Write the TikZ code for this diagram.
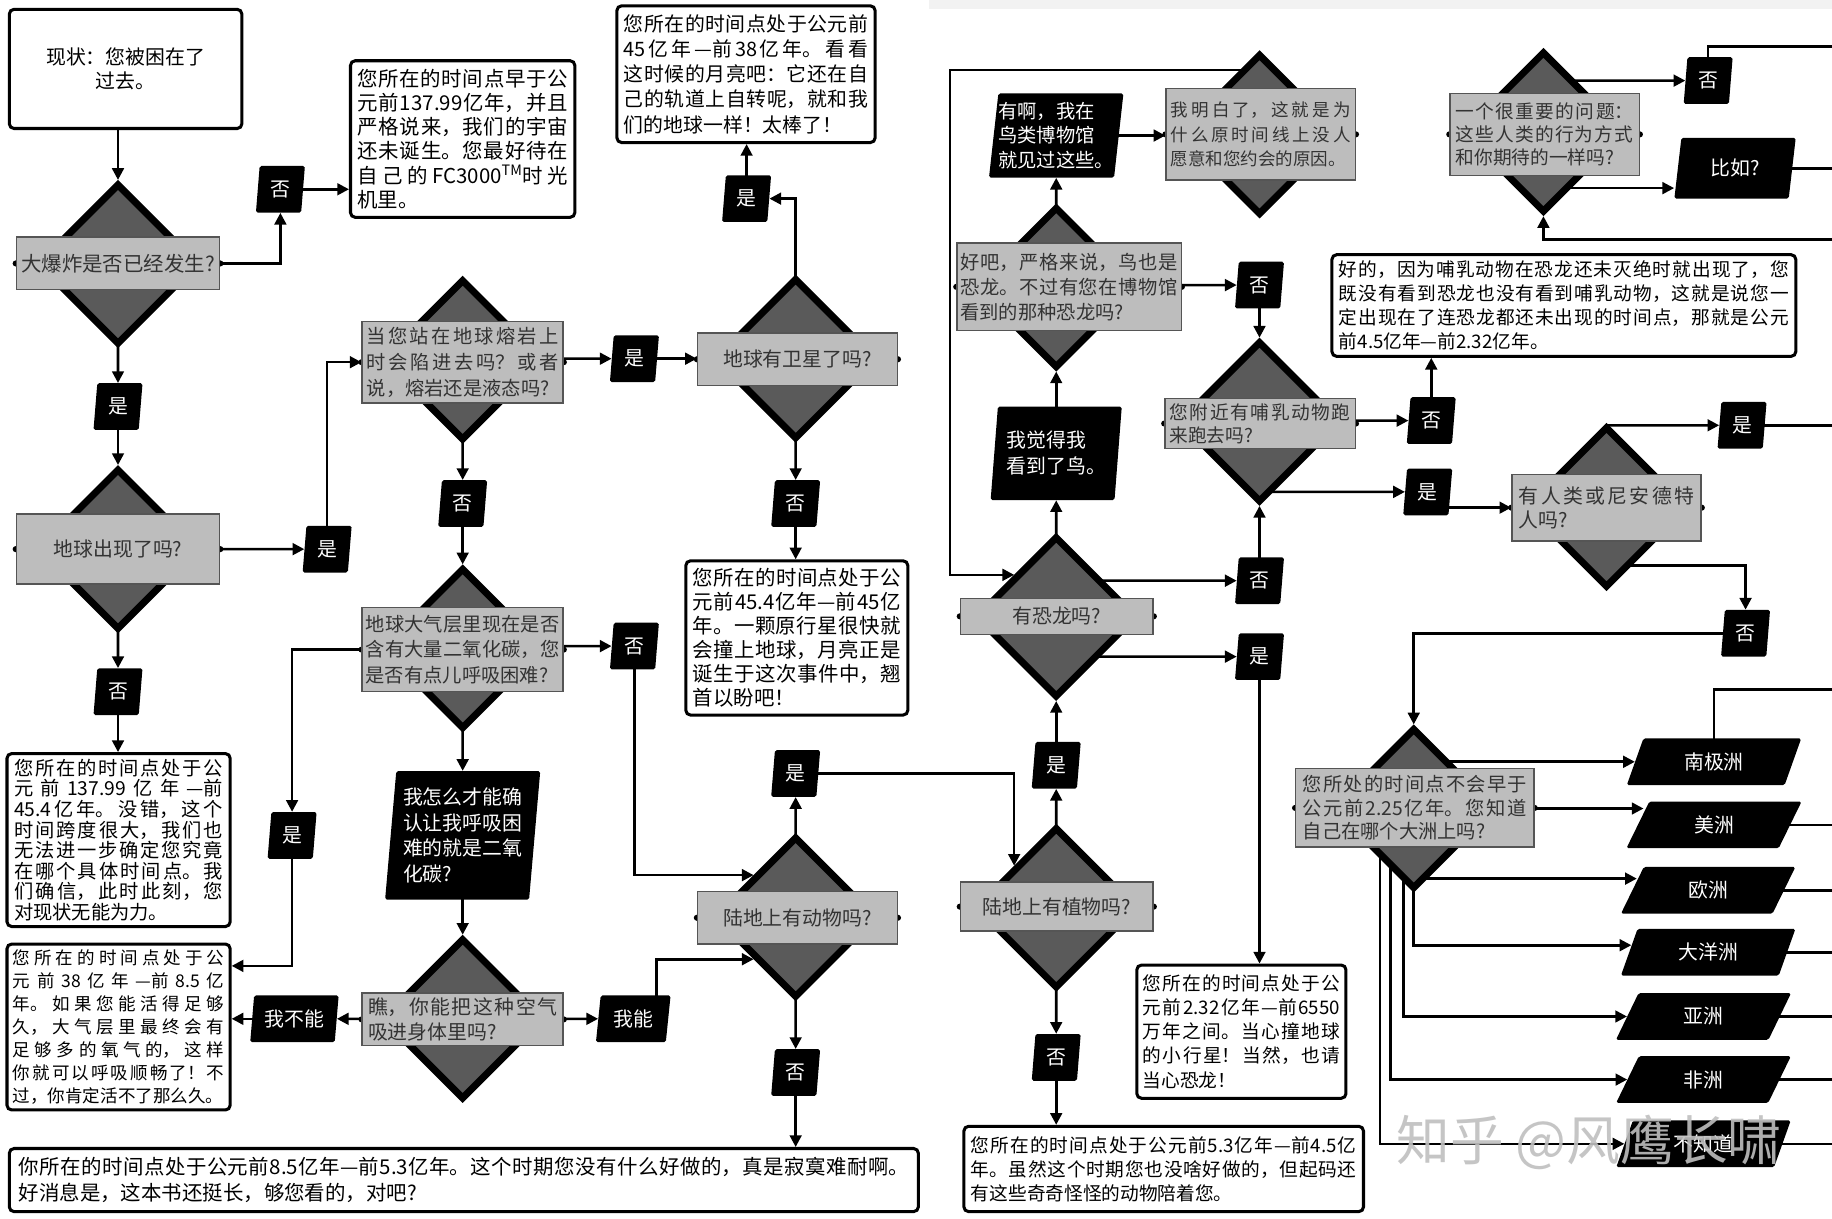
\documentclass[tikz,border=0pt]{standalone}
\usepackage{fontspec}
\setmainfont{Noto Sans CJK SC}
\usetikzlibrary{shapes.geometric,arrows.meta,calc}
\XeTeXlinebreaklocale "zh"
\XeTeXlinebreakskip=0pt plus 2pt
\definecolor{dgray}{HTML}{5A5A5A}
\definecolor{lgray}{HTML}{BDBDBD}
\definecolor{rbord}{HTML}{555555}
\definecolor{rtext}{HTML}{333333}
\definecolor{band}{HTML}{F2F2F2}
\newcommand{\myfs}[2]{\fontsize{#1}{#2}\selectfont}
\pgfdeclarelayer{bg}
\pgfsetlayers{bg,main}
\tikzset{
  dia/.style={diamond, shape aspect=1, draw=black, line width=6pt, fill=dgray, minimum width=138pt, minimum height=138pt, inner sep=0pt},
  qrect/.style={rectangle, draw=rbord, line width=1.2pt, fill=lgray, text=rtext, inner sep=0pt},
  tbox/.style={rectangle, draw=black, line width=2.6pt, rounded corners=4pt, fill=white, inner ysep=0pt, align=justify},
  lab/.style={trapezium, trapezium left angle=84, trapezium right angle=96, trapezium stretches=true, fill=black, text=white, minimum width=42pt, minimum height=40pt, inner sep=0pt, rounded corners=1.5pt, font=\myfs{17}{20}},
  cont/.style={lab, trapezium left angle=69, trapezium right angle=111, minimum width=150pt, minimum height=40pt},
  conn/.style={line width=2.2pt, draw=black, -{Triangle[length=10pt,width=10pt]}},
  plain/.style={line width=2.2pt, draw=black},
}
\begin{document}
\begin{tikzpicture}[x=1pt,y=-1pt]
\useasboundingbox (0,0) rectangle (1568,1043);
\begin{pgfonlayer}{bg}
\fill[white] (0,0) rectangle (1568,1043);
\fill[band] (795,0) rectangle (1568,8);
\end{pgfonlayer}
\coordinate (edge) at (1568,0);
\coordinate (e2) at (1568,590);
\coordinate (e3) at (1568,40);
\coordinate (e4) at (1568,205);
\coordinate (k1) at (813,60);

% diamonds
\node[dia] (d1) at (101,226) {};
\node[dia] (d2) at (101,470) {};
\node[dia] (d3) at (396,308) {};
\node[dia] (d4) at (681,307) {};
\node[dia] (d5) at (396,555) {};
\node[dia] (d6) at (396,872) {};
\node[dia] (d7) at (681,785) {};
\node[dia] (d8) at (904,777) {};
\node[dia] (d9) at (904,528) {};
\node[dia] (d10) at (904,246) {};
\node[dia] (d11) at (1078,115) {};
\node[dia] (d12) at (1078,361) {};
\node[dia] (d13) at (1375,434) {};
\node[dia] (d14) at (1210,692) {};
\node[dia] (d15) at (1321,113) {};

% question rectangles
\node[qrect, minimum width=174pt, minimum height=45pt, font=\myfs{17.5}{20}] (r1) at (101,225.5) {大爆炸是否已经发生?};
\node[qrect, minimum width=174pt, minimum height=60pt, font=\myfs{17}{20}] (r2) at (101,470) {地球出现了吗?};
\node[qrect, minimum width=172pt, minimum height=70pt, text width=164pt, inner xsep=4pt, align=justify, font=\myfs{16.5}{22}] (r3) at (396,310) {当您站在地球熔岩上\linebreak 时会陷进去吗？或者\linebreak 说，熔岩还是液态吗?};
\node[qrect, minimum width=171pt, minimum height=45pt, font=\myfs{17}{20}] (r4) at (682.5,307.5) {地球有卫星了吗?};
\node[qrect, minimum width=172pt, minimum height=72pt, text width=166pt, inner xsep=3pt, align=justify, font=\myfs{16.5}{21.5}] (r5) at (396,556) {地球大气层里现在是否\linebreak 含有大量二氧化碳，您\linebreak 是否有点儿呼吸困难?};
\node[qrect, minimum width=172pt, minimum height=45pt, text width=162pt, inner xsep=5pt, align=justify, font=\myfs{17}{21}] (r6) at (396,872.5) {瞧，你能把这种空气\linebreak 吸进身体里吗?};
\node[qrect, minimum width=171pt, minimum height=45pt, font=\myfs{17}{20}] (r7) at (682.5,785.5) {陆地上有动物吗?};
\node[qrect, minimum width=165pt, minimum height=42pt, font=\myfs{17}{20}] (r8) at (904.5,776) {陆地上有植物吗?};
\node[qrect, minimum width=165pt, minimum height=31pt, font=\myfs{17}{20}] (r9) at (904.5,527.5) {有恐龙吗?};
\node[qrect, minimum width=192pt, minimum height=75pt, text width=186pt, inner xsep=3pt, align=justify, font=\myfs{16.5}{21.5}] (r10) at (915,245.5) {好吧，严格来说，鸟也是\linebreak 恐龙。不过有您在博物馆\linebreak 看到的那种恐龙吗?};
\node[qrect, minimum width=162pt, minimum height=78pt, text width=154pt, inner xsep=4pt, align=justify, font=\myfs{15}{21}] (r11) at (1079,115) {我明白了，这就是为\linebreak 什么原时间线上没人\linebreak 愿意和您约会的原因。};
\node[qrect, minimum width=163pt, minimum height=43pt, text width=155pt, inner xsep=4pt, align=justify, font=\myfs{16}{19.5}] (r12) at (1078.5,362.5) {您附近有哺乳动物跑\linebreak 来跑去吗?};
\node[qrect, minimum width=162pt, minimum height=57pt, text width=150pt, inner xsep=6pt, align=justify, font=\myfs{17}{21}] (r13) at (1375,434.5) {有人类或尼安德特\linebreak 人吗?};
\node[qrect, minimum width=204pt, minimum height=67pt, text width=192pt, inner xsep=6pt, align=justify, font=\myfs{16.5}{20}] (r14) at (1211,691.5) {您所处的时间点不会早于\linebreak 公元前2.25亿年。您知道\linebreak 自己在哪个大洲上吗?};
\node[qrect, minimum width=162pt, minimum height=70pt, text width=152pt, inner xsep=5pt, align=justify, font=\myfs{16}{20}] (r15) at (1322,115) {一个很重要的问题：\linebreak 这些人类的行为方式\linebreak 和你期待的一样吗?};

% text boxes
\node[tbox, align=center, minimum width=199pt, minimum height=102pt, font=\myfs{17}{21}] (start) at (107.5,59) {\raisebox{-6pt}{\parbox{160pt}{\centering 现状：您被困在了\\过去。}}};
\node[tbox, text width=180pt, inner xsep=6pt, minimum height=134pt, font=\myfs{17.5}{20.7}] (b1) at (396,119) {您所在的时间点早于公\linebreak 元前137.99亿年，并且\linebreak 严格说来，我们的宇宙\linebreak 还未诞生。您最好待在\linebreak 自己的FC3000\textsuperscript{TM}时光\linebreak 机里。};
\node[tbox, text width=179pt, inner xsep=6pt, minimum height=148pt, font=\myfs{16.5}{17.6}] (b2) at (101.5,719) {您所在的时间点处于公\linebreak 元前137.99亿年—前\linebreak 45.4亿年。没错，这个\linebreak 时间跨度很大，我们也\linebreak 无法进一步确定您究竟\linebreak 在哪个具体时间点。我\linebreak 们确信，此时此刻，您\linebreak 对现状无能为力。};
\node[tbox, text width=209pt, inner xsep=6pt, minimum height=117pt, font=\myfs{17}{21.5}] (b3) at (638.5,63.5) {您所在的时间点处于公元前\linebreak 45亿年—前38亿年。看看\linebreak 这时候的月亮吧：它还在自\linebreak 己的轨道上自转呢，就和我\linebreak 们的地球一样！太棒了！};
\node[tbox, text width=178pt, inner xsep=6pt, minimum height=132pt, font=\myfs{17.5}{20.5}] (b4) at (682,546) {您所在的时间点处于公\linebreak 元前45.4亿年—前45亿\linebreak 年。一颗原行星很快就\linebreak 会撞上地球，月亮正是\linebreak 诞生于这次事件中，翘\linebreak 首以盼吧！};
\node[tbox, text width=181pt, inner xsep=5pt, minimum height=142pt, font=\myfs{15}{19.7}] (b5) at (101.5,879) {您所在的时间点处于公\linebreak 元前38亿年—前8.5亿\linebreak 年。如果您能活得足够\linebreak 久，大气层里最终会有\linebreak 足够多的氧气的，这样\linebreak 你就可以呼吸顺畅了！不\linebreak 过，你肯定活不了那么久。};
\node[tbox, text width=762pt, inner xsep=8pt, minimum height=54pt, font=\myfs{17.5}{22}] (b6) at (397,1010) {你所在的时间点处于公元前8.5亿年—前5.3亿年。这个时期您没有什么好做的，真是寂寞难耐啊。\linebreak 好消息是，这本书还挺长，够您看的，对吧?};
\node[tbox, text width=169pt, inner xsep=5pt, minimum height=114pt, font=\myfs{16}{20.7}] (b7) at (1062.5,883) {您所在的时间点处于公\linebreak 元前2.32亿年—前6550\linebreak 万年之间。当心撞地球\linebreak 的小行星！当然，也请\linebreak 当心恐龙！};
\node[tbox, text width=330pt, inner xsep=6pt, minimum height=73pt, font=\myfs{16}{20.5}] (b8) at (996,1000.5) {您所在的时间点处于公元前5.3亿年—前4.5亿\linebreak 年。虽然这个时期您也没啥好做的，但起码还\linebreak 有这些奇奇怪怪的动物陪着您。};
\node[tbox, text width=385pt, inner xsep=6pt, minimum height=87pt, font=\myfs{16}{20.5}] (b9) at (1338.5,261.5) {好的，因为哺乳动物在恐龙还未灭绝时就出现了，您\linebreak 既没有看到恐龙也没有看到哺乳动物，这就是说您一\linebreak 定出现在了连恐龙都还未出现的时间点，那就是公元\linebreak 前4.5亿年—前2.32亿年。};

% yes / no labels
\node[lab] (n1) at (240,162) {否};
\node[lab] (y1) at (101,348) {是};
\node[lab] (y2) at (280,470) {是};
\node[lab] (n2) at (101,592) {否};
\node[lab] (y3) at (543,307) {是};
\node[lab] (y4) at (639,170) {是};
\node[lab] (n4) at (681,431) {否};
\node[lab] (n3) at (396,431) {否};
\node[lab] (n5) at (543,553) {否};
\node[lab] (y5) at (250,715) {是};
\node[lab, minimum width=76pt, trapezium left angle=81, trapezium right angle=99] (c1) at (252,872) {我不能};
\node[lab, minimum width=64pt, trapezium left angle=81, trapezium right angle=99] (c2) at (542,872) {我能};
\node[lab] (y6) at (681,662) {是};
\node[lab] (n7) at (681,918) {否};
\node[lab] (y7) at (904,655) {是};
\node[lab] (n10) at (904,905) {否};
\node[lab] (n8) at (1078,244) {否};
\node[lab] (n9) at (1078,497) {否};
\node[lab] (y8) at (1078,562) {是};
\node[lab] (n11) at (1225,360) {否};
\node[lab] (y9) at (1222,421) {是};
\node[lab] (y10) at (1491,364) {是};
\node[lab] (n12) at (1494,542) {否};
\node[lab] (n13) at (1462,69) {否};

% black statements
\node[lab, minimum width=133pt, minimum height=110pt, align=left, font=\myfs{17}{22}] (p1) at (396,715) {我怎么才能确\\认让我呼吸困\\难的就是二氧\\化碳?};
\node[lab, minimum width=113pt, minimum height=80pt, trapezium left angle=82, trapezium right angle=98, align=left, font=\myfs{17}{22}] (p2) at (904,388) {我觉得我\\看到了鸟。};
\node[lab, minimum width=110pt, minimum height=72pt, trapezium left angle=82, trapezium right angle=98, align=left, font=\myfs{16.5}{21}] (p3) at (904,116) {有啊，我在\\鸟类博物馆\\就见过这些。};
\node[lab, minimum width=104pt, minimum height=52pt, trapezium left angle=80, trapezium right angle=100] (p4) at (1485,144) {比如?};

% continents
\node[cont] (ct1) at (1467,652) {南极洲};
\node[cont] (ct2) at (1467,706) {美洲};
\node[cont] (ct3) at (1462,762) {欧洲};
\node[cont] (ct4) at (1462,815) {大洋洲};
\node[cont] (ct5) at (1458,870) {亚洲};
\node[cont] (ct6) at (1458,924) {非洲};
\node[cont] (ct7) at (1458,979) {不知道};

% connectors
\begin{pgfonlayer}{bg}
\foreach \r in {r1,r2,r3,r4,r5,r6,r7,r8,r9,r10,r11,r12,r13,r14,r15}{
  \fill (\r.west) circle (2.6pt);
  \fill (\r.east) circle (2.6pt);
}
\draw[conn] (d1.north |- start.south) -- (d1.north);
\draw[conn] (r1.center) -| (n1.south);
\draw[conn] (n1.center) -- (n1.center -| b1.west);
\draw[conn] (d1.center) -- (y1.north);
\draw[conn] (y1.center) -- (d2.north);
\draw[conn] (r2.center) -- (y2.west);
\draw[conn] (y2.center) |- (r3.west);
\draw[conn] (d2.center) -- (n2.north);
\draw[conn] (n2.center) -- (n2.center |- b2.north);
\draw[conn] (y3.center -| r3.center) -- (y3.west);
\draw[conn] (y3.center) -- (y3.center -| r4.west);
\draw[conn] (d4.center) |- (y4.east);
\draw[conn] (y4.center) -- (y4.center |- b3.south);
\draw[conn] (d4.center) -- (n4.north);
\draw[conn] (n4.center) -- (n4.center |- b4.north);
\draw[conn] (d3.center) -- (n3.north);
\draw[conn] (n3.center) -- (d5.north);
\draw[conn] (n5.center -| r5.center) -- (n5.west);
\draw[conn] (n5.center) |- (d7.north west);
\draw[conn] (r5.center) -| (y5.north);
\coordinate (a6) at ($(b5.north east)+(0,20)$);
\draw[conn] (y5.center) |- (a6);
\draw[conn] (d5.center) -- (p1.north);
\draw[conn] (p1.center) -- (d6.north);
\draw[conn] (c1.center -| r6.center) -- (c1.east);
\draw[conn] (c1.center) -- (c1.center -| b5.east);
\draw[conn] (c2.center -| r6.center) -- (c2.west);
\coordinate (a7) at ($(c2.center)+(20,0)$);
\draw[conn] (a7) |- (d7.south west);
\draw[conn] (d7.center) -- (y6.south);
\draw[conn] (y6.center) -| (d8.north west);
\draw[conn] (d7.center) -- (n7.north);
\draw[conn] (n7.center) -- (n7.center |- b6.north);
\draw[conn] (d8.center) -- (y7.south);
\draw[conn] (y7.center) -- (d9.south);
\draw[conn] (d9.center) -- (p2.south);
\draw[conn] (p2.center) -- (d10.south);
\draw[conn] (d10.center) -- (p3.south);
\draw[conn] (p3.center) -- (p3.center -| r11.west);
\draw[conn] (d11.center |- k1) -- (k1) |- (d9.north west);
\draw[conn] (n8.center -| r10.center) -- (n8.west);
\draw[conn] (n8.center) -- (d12.north);
\draw[conn] (n9.center -| d9.center) -- (n9.west);
\draw[conn] (n9.center) -- (d12.south);
\draw[conn] (y8.center -| d9.center) -- (y8.west);
\draw[conn] (y8.center) -- (y8.center |- b7.north);
\draw[conn] (d8.center) -- (n10.north);
\draw[conn] (n10.center) -- (n10.center |- b8.north);
\draw[conn] (n11.center -| d12.center) -- (n11.west);
\draw[conn] (n11.center) -- (n11.center |- b9.south);
\draw[conn] (y9.center -| d12.center) -- (y9.west);
\draw[conn] (y9.center |- r13.west) -- (r13.west);
\draw[conn] (y10.center -| d13.center) -- (y10.west);
\draw[plain] (y10.center) -- (y10.center -| edge);
\coordinate (k2) at ($(d13.center)+(0,50)$);
\draw[conn] (k2) -| (n12.north);
\draw[conn] (n12.center) -| (d14.north);
% continents
\draw[conn] (ct1.west -| d14.center) -- (ct1.west);
\coordinate (a2) at ($(ct2.west)+(5,-14)$);
\draw[conn] (a2 -| d14.center) -- (a2);
\coordinate (a3) at ($(ct3.west)+(4,-10)$);
\draw[conn] (a3 -| d14.center) -- (a3);
\coordinate (a4) at ($(ct4.west)+(2,-6)$);
\draw[conn] (d14.center) |- (a4);
\coordinate (v5) at ($(d14.center)+(-9,0)$);
\draw[conn] (v5) |- (ct5.west);
\coordinate (v6) at ($(d14.center)+(-20,0)$);
\draw[conn] (v6) |- (ct6.west);
\coordinate (v7) at ($(d14.center)+(-29,0)$);
\draw[conn] (v7) |- (ct7.west);
\draw[plain] (ct1.center) |- (e2);
\foreach \c in {ct2,ct3,ct4,ct5,ct6,ct7}{
  \draw[plain] (\c.center) -- (\c.center -| edge);
}
% top right
\draw[conn] (n13.center -| d15.center) -- (n13.west);
\draw[plain] (n13.center) |- (e3);
\coordinate (a5) at ($(p4.west)+(-3,17)$);
\draw[conn] (a5 -| d15.center) -- (a5);
\draw[plain] (p4.center) -- (p4.center -| edge);
\draw[conn] (e4) -| (d15.south);
\end{pgfonlayer}

% watermark
\node[text=gray!50, opacity=0.9, font=\myfs{46}{50}] (wm) at (1360,978) {知乎 @风鹰长啸};
\end{tikzpicture}
\end{document}
